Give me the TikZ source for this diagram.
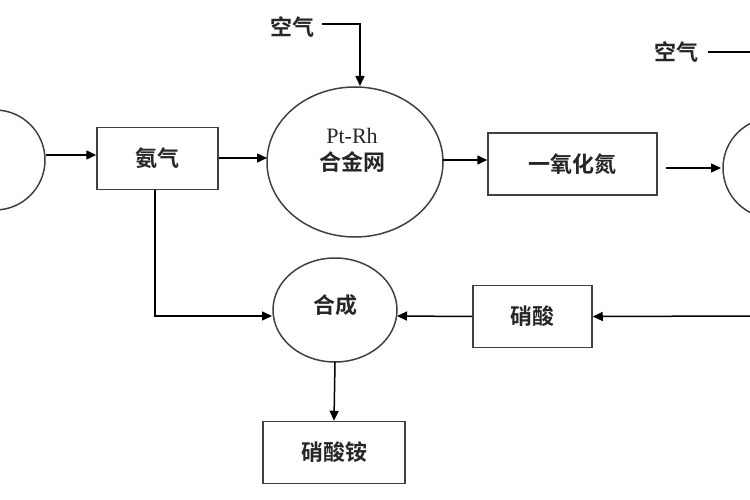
\documentclass[tikz,border=0pt]{standalone}
\usepackage{fontspec}
\newfontfamily\cjk{Noto Sans CJK SC Bold}
\newfontfamily\ptfont{Liberation Serif}
\usetikzlibrary{arrows.meta}
\begin{document}
\begin{tikzpicture}[x=1pt,y=-1pt,
  every node/.style={font=\cjk\fontsize{22}{27}\selectfont,text=black!85},
  boxn/.style={draw=black!75,line width=1.5pt,minimum width=#1,minimum height=62pt,inner sep=0pt},
  ell/.style={draw=black!75,line width=1.5pt},
  arr/.style={line width=1.5pt,-{Triangle[length=10pt,width=9pt]}},
  ln/.style={line width=1.5pt}]
\useasboundingbox (0,0) rectangle (750,500);
\begin{scope}
\clip (0,0) rectangle (750,500);
\draw[ell] (-5,160) ellipse (50 and 50);
\draw[ell] (773,168) ellipse (50 and 50);
\end{scope}
\coordinate (lc) at (46,155);
\coordinate (rc) at (721,168);
\node[boxn=121pt] (nh3) at (157.5,158.5) {氨气};
\draw[ell] (355,162) ellipse (88 and 75);
\node[align=center] (ptt) at (352,150) {{\ptfont\fontsize{22}{27}\selectfont Pt-Rh}\\合金网};
\node[boxn=169pt] (no) at (572.5,164) {一氧化氮};
\node (air1) at (292,27) {空气};
\node (air2) at (676,52) {空气};
\draw[ell] (335,310) ellipse (62 and 52);
\node (hc) at (335,305) {合成};
\node[boxn=119pt] (hno3) at (532.5,316.5) {硝酸};
\node[boxn=142pt] (an) at (334,452.5) {硝酸铵};
\coordinate (ptTop) at (360,86);
\coordinate (ptR) at (443,160);
\coordinate (ptL) at (267,158);
\coordinate (hcL) at (272,316);
\coordinate (hcR) at (397,316);
\coordinate (hcB) at (335,362);
\coordinate (rin) at (750,316);
\coordinate (aout) at (750,52);
\coordinate (nb) at (155,190);
\draw[arr] (lc) -- (nh3.west |- lc);
\draw[arr] (nh3.east |- ptL) -- (ptL);
\draw[arr] ([shift={(4,-3)}]air1.east) -| (ptTop);
\draw[arr] (ptR) -- (no.west |- ptR);
\draw[arr] ([xshift=8pt]no.east |- rc) -- (rc);
\draw[ln] ([xshift=6pt]air2.east) -- (aout);
\draw[arr] (nb) |- (hcL);
\draw[arr] (hno3.west) -- (hcR);
\draw[arr] (rin) -- (hno3.east);
\draw[arr] (hcB) -- (an.north);
\end{tikzpicture}
\end{document}
